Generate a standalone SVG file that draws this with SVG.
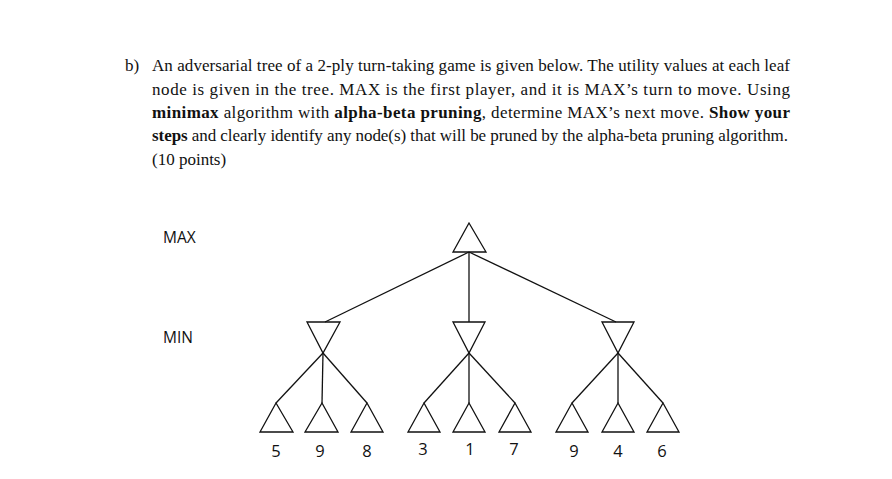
<svg xmlns="http://www.w3.org/2000/svg" width="892" height="479" viewBox="0 0 892 479">
<style>
.q{font-family:"Liberation Serif","Times New Roman",serif;font-size:17px;fill:#111}
.b{font-weight:bold}
.lbl{font-family:"Open Sans","Liberation Sans",Arial,sans-serif;font-size:15.5px;fill:#111}
.num{font-family:"Open Sans","Liberation Sans",Arial,sans-serif;font-size:16.5px;fill:#111;text-anchor:middle}
.tri{fill:none;stroke:#111;stroke-width:1.3;stroke-linejoin:miter}
.edge{stroke:#111;stroke-width:1.3;fill:none}
</style>
<rect width="892" height="479" fill="#fff"/>
<g id="question">
<text class="q" x="125" y="71">b)</text>
<text class="q" x="152" y="71" textLength="638" lengthAdjust="spacing">An adversarial tree of a 2-ply turn-taking game is given below. The utility values at each leaf</text>
<text class="q" x="152" y="95" textLength="638" lengthAdjust="spacing">node is given in the tree. MAX is the first player, and it is MAX’s turn to move. Using</text>
<text class="q" x="152" y="118" textLength="638" lengthAdjust="spacing"><tspan class="b">minimax</tspan> algorithm with <tspan class="b">alpha-beta pruning</tspan>, determine MAX’s next move. <tspan class="b">Show your</tspan></text>
<text class="q" x="152" y="141" textLength="636" lengthAdjust="spacing"><tspan class="b">steps</tspan> and clearly identify any node(s) that will be pruned by the alpha-beta pruning algorithm.</text>
<text class="q" x="152" y="165">(10 points)</text>
</g>
<g id="level-labels">
<text class="lbl" x="163" y="243">MAX</text>
<text class="lbl" x="163" y="343">MIN</text>
</g>
<g id="connectors">
<line class="edge" x1="469" y1="252" x2="325" y2="322"/>
<line class="edge" x1="469" y1="252" x2="469" y2="322"/>
<line class="edge" x1="469" y1="252" x2="616" y2="322"/>
<line class="edge" x1="323" y1="353" x2="276" y2="403"/>
<line class="edge" x1="323" y1="353" x2="322" y2="403"/>
<line class="edge" x1="323" y1="353" x2="367" y2="403"/>
<line class="edge" x1="469" y1="353" x2="424" y2="403"/>
<line class="edge" x1="469" y1="353" x2="469" y2="403"/>
<line class="edge" x1="469" y1="353" x2="515" y2="403"/>
<line class="edge" x1="618" y1="353" x2="572" y2="403"/>
<line class="edge" x1="618" y1="353" x2="618" y2="403"/>
<line class="edge" x1="618" y1="353" x2="663" y2="403"/>
</g>
<g id="root"><polygon class="tri" points="469,223 486,252 453,252"/></g>
<g id="min1"><polygon class="tri" points="307,322 340,322 323,353"/></g>
<g id="min2"><polygon class="tri" points="453,322 485,322 469,353"/></g>
<g id="min3"><polygon class="tri" points="602,322 634,322 618,353"/></g>
<g id="leaf1"><polygon class="tri" points="276,403 293,432 260,432"/><text class="num" x="276" y="457">5</text></g>
<g id="leaf2"><polygon class="tri" points="322,403 338,432 305,432"/><text class="num" x="320" y="457">9</text></g>
<g id="leaf3"><polygon class="tri" points="367,403 383,432 351,432"/><text class="num" x="367" y="457">8</text></g>
<g id="leaf4"><polygon class="tri" points="424,403 440,432 408,432"/><text class="num" x="423" y="455">3</text></g>
<g id="leaf5"><polygon class="tri" points="469,403 485,432 453,432"/><text class="num" x="470" y="455">1</text></g>
<g id="leaf6"><polygon class="tri" points="515,403 531,432 499,432"/><text class="num" x="514" y="455">7</text></g>
<g id="leaf7"><polygon class="tri" points="572,403 588,432 556,432"/><text class="num" x="574" y="457">9</text></g>
<g id="leaf8"><polygon class="tri" points="618,403 634,432 602,432"/><text class="num" x="618" y="457">4</text></g>
<g id="leaf9"><polygon class="tri" points="663,403 679,432 647,432"/><text class="num" x="662" y="457">6</text></g>
</svg>
